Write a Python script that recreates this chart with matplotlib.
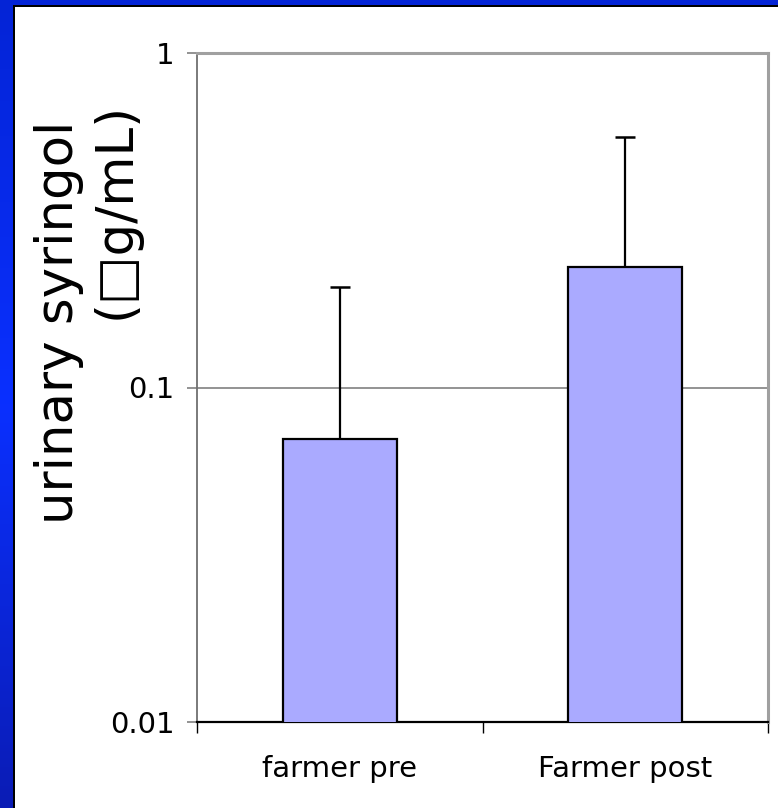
import numpy as np
import matplotlib
matplotlib.use("Agg")
import matplotlib.pyplot as plt
from matplotlib.colors import LinearSegmentedColormap
from matplotlib.patches import Rectangle

categories = ["farmer pre", "Farmer post"]
values = [0.07, 0.23]
err_upper = [0.13, 0.33]
ytick_vals = [0.01, 0.1, 1]
ytick_labels = ["0.01", "0.1", "1"]
ylabel_line1 = "urinary syringol"
ylabel_line2 = "(\u25a1g/mL)"

W, H = 778, 808
fig = plt.figure(figsize=(W / 100, H / 100), dpi=100)

# blue gradient background
bg = fig.add_axes([0, 0, 1, 1], zorder=-10)
cmap = LinearSegmentedColormap.from_list(
    "bluebg", ["#0a1cb5", "#0a30ff", "#0424d6"])
grad = np.linspace(0, 1, 256).reshape(-1, 1)
bg.imshow(grad, aspect="auto", cmap=cmap, origin="lower",
          extent=[0, 1, 0, 1])
bg.set_axis_off()
bg.add_patch(Rectangle((13 / W, -0.01), 1.0, 1 - 5 / H + 0.01,
                       transform=bg.transAxes, facecolor="black",
                       edgecolor="none"))
bg.add_patch(Rectangle((15 / W, -0.01), 1.0, 1 - 7 / H + 0.01,
                       transform=bg.transAxes, facecolor="white",
                       edgecolor="none"))
bg.set_xlim(0, 1)
bg.set_ylim(0, 1)

left, right = 197 / W, 768 / W
bottom, top = (H - 722) / H, (H - 53) / H
ax = fig.add_axes([left, bottom, right - left, top - bottom])
ax.set_facecolor("none")

x = np.arange(len(categories))
ax.bar(x, values, width=0.4, color="#aaaaff", edgecolor="black",
       linewidth=1.6, zorder=3)
ax.errorbar(x, values, yerr=[np.zeros(len(values)), err_upper], fmt="none",
            ecolor="black", elinewidth=1.6, capsize=7.5, capthick=1.8,
            zorder=2.5)

ax.set_yscale("log")
ax.set_ylim(0.01, 1)
ax.set_xlim(-0.5, len(categories) - 0.5)

ax.set_yticks(ytick_vals)
ax.set_yticklabels(ytick_labels)
ax.yaxis.set_minor_locator(matplotlib.ticker.NullLocator())
ax.tick_params(axis="y", which="major", length=7, width=1.2,
               color="#808080", labelsize=21, pad=9, labelcolor="black")
ax.grid(axis="y", which="major", color="#808080", linewidth=1.2, zorder=0)

ax.set_xticks(np.arange(-0.5, len(categories), 1.0))
ax.set_xticklabels([])
ax.set_xticks(x, minor=True)
ax.set_xticklabels(categories, minor=True)
ax.tick_params(axis="x", which="major", length=8, width=1.0, color="black",
               direction="out")
ax.tick_params(axis="x", which="minor", length=0, labelsize=21, pad=24)

for s in ["top", "right"]:
    ax.spines[s].set_color("#a0a0a0")
    ax.spines[s].set_linewidth(2.2)
ax.spines["left"].set_color("#707070")
ax.spines["left"].set_linewidth(1.3)
ax.spines["bottom"].set_color("black")
ax.spines["bottom"].set_linewidth(1.6)

fig.text(59 / W, (H - 322.5) / H, ylabel_line1, rotation=90,
         ha="center", va="center", fontsize=37)
fig.text(116 / W, (H - 210) / H, ylabel_line2, rotation=90,
         ha="center", va="center", fontsize=37)

fig.savefig("out.png", dpi=100)
